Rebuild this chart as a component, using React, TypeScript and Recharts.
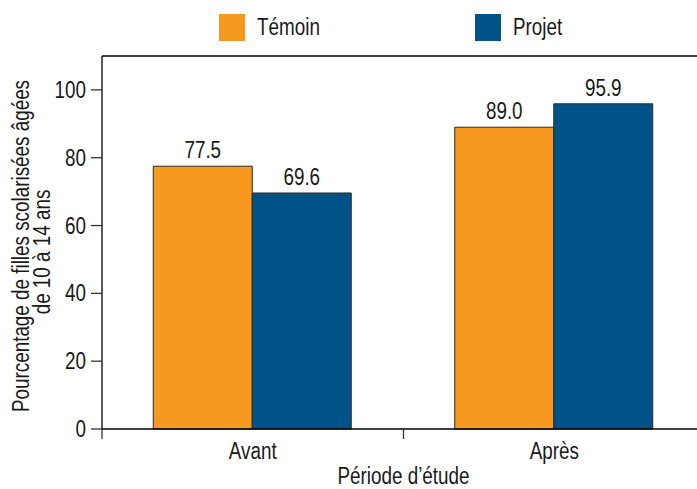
import React from 'react'
import { BarChart, Bar, XAxis, YAxis, ReferenceLine, LabelList } from 'recharts'

const periods = ['Avant', 'Après']
const temoinValues = [77.5, 89.0]
const projetValues = [69.6, 95.9]
const yTicks = [0, 20, 40, 60, 80, 100]

const series = [
  { key: 'temoin', name: 'Témoin', color: '#F7981F' },
  { key: 'projet', name: 'Projet', color: '#02528A' },
]

const data = periods.map((p, i) => ({ period: p, temoin: temoinValues[i], projet: projetValues[i] }))

// no narrow font installed, so squeeze Liberation Sans horizontally
const FONT = '"Liberation Sans", Arial, sans-serif'
const FS = 23
const SQ = 0.82
const INK = '#1a1a1a'

function NarrowText({ x, y, anchor = 'middle', rotate = 0, children }: any) {
  const tf = rotate ? `translate(${x},${y}) rotate(${rotate}) scale(${SQ},1)` : `translate(${x},${y}) scale(${SQ},1)`
  return (
    <text transform={tf} textAnchor={anchor} fontSize={FS} fontFamily={FONT} fill={INK}>
      {children}
    </text>
  )
}

function PeriodTick(props: any) {
  const { x, y, payload } = props
  const half = payload && payload.offset ? payload.offset : 150
  return (
    <g>
      <line x1={x - half} y1={y} x2={x - half} y2={y + 10} stroke="#333" strokeWidth={1.3} />
      <NarrowText x={x} y={y + 30}>{payload.value}</NarrowText>
    </g>
  )
}

function ValueTick(props: any) {
  const { x, y, payload } = props
  return <NarrowText x={x} y={y + 8} anchor="end">{payload.value}</NarrowText>
}

function XTitle(props: any) {
  const vb = props.viewBox || {}
  return <NarrowText x={vb.x + vb.width / 2} y={484}>Période d’étude</NarrowText>
}

function YTitle() {
  return (
    <g>
      <NarrowText x={29} y={246} rotate={-90}>Pourcentage de filles scolarisées âgées</NarrowText>
      <NarrowText x={50} y={252} rotate={-90}>de 10 à 14 ans</NarrowText>
    </g>
  )
}

function BarValue(props: any) {
  const { x, y, width, value } = props
  return <NarrowText x={x + width / 2} y={y - 8}>{Number(value).toFixed(1)}</NarrowText>
}

export default function App() {
  return (
    <div style={{ position: 'relative', width: 697, height: 489, overflow: 'hidden' }}>
      <style>{'body{margin:0}'}</style>
      <div style={{ position: 'absolute', top: 14, left: 219, display: 'flex', zIndex: 2 }}>
        {series.map((s, i) => (
          <div key={s.key} style={{ display: 'flex', alignItems: 'center', width: i === 0 ? 256 : 120, height: 27 }}>
            <span style={{ width: 26, height: 27, background: s.color, display: 'inline-block', flex: 'none' }} />
            <span
              style={{
                marginLeft: 12,
                fontSize: FS,
                fontFamily: FONT,
                color: INK,
                display: 'inline-block',
                transform: `scaleX(${SQ})`,
                transformOrigin: 'left center',
                whiteSpace: 'nowrap',
              }}
            >
              {s.name}
            </span>
          </div>
        ))}
      </div>
      <BarChart
        width={720}
        height={489}
        data={data}
        margin={{ top: 56, right: 15, left: 0, bottom: 0 }}
        barCategoryGap="17%"
        barGap={0}
      >
        <XAxis
          dataKey="period"
          axisLine={{ stroke: '#000', strokeWidth: 1.3 }}
          tickLine={false}
          tickSize={0}
          tickMargin={0}
          tick={<PeriodTick />}
          height={60}
          label={{ content: <XTitle /> }}
        />
        <YAxis
          domain={[0, 110]}
          ticks={yTicks}
          width={102}
          axisLine={{ stroke: '#000', strokeWidth: 1.3 }}
          tickLine={{ stroke: '#333', strokeWidth: 1.3 }}
          tickSize={11}
          tickMargin={5}
          tick={<ValueTick />}
          label={{ content: <YTitle /> }}
        />
        <ReferenceLine y={110} stroke="#000" strokeWidth={1.3} />
        {series.map((s) => (
          <Bar key={s.key} dataKey={s.key} name={s.name} fill={s.color} stroke="#2b2b2b" strokeWidth={1} isAnimationActive={false}>
            <LabelList dataKey={s.key} content={<BarValue />} />
          </Bar>
        ))}
      </BarChart>
    </div>
  )
}
